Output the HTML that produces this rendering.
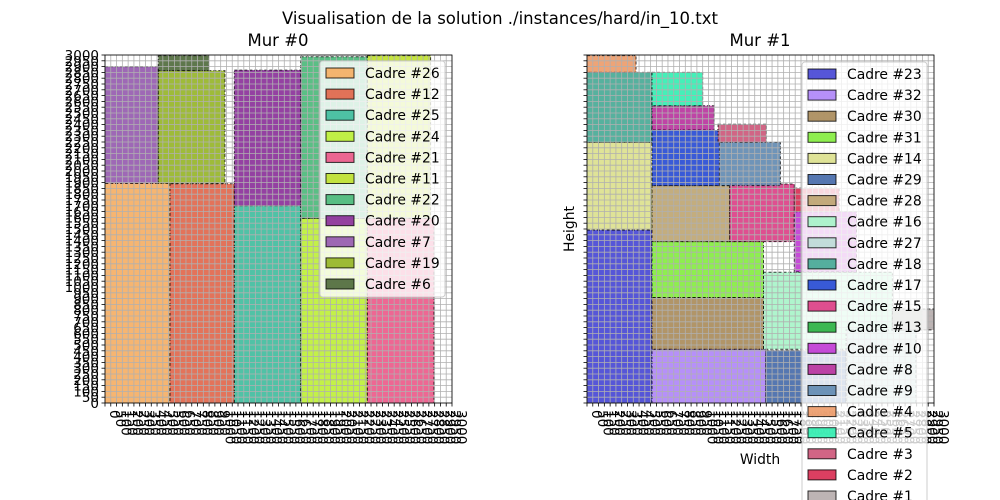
<!DOCTYPE html>
<html><head><meta charset="utf-8">
<style>
html,body{margin:0;padding:0;background:#fff;}
svg{display:block;font-family:"DejaVu Sans","Liberation Sans",sans-serif;}
</style></head>
<body>
<svg id="fig" width="1000" height="500" viewBox="0 0 1000 500" xmlns="http://www.w3.org/2000/svg">
<rect x="0" y="0" width="1000" height="500" fill="#fff"/>
<text x="500" y="24" font-size="16.5" text-anchor="middle">Visualisation de la solution ./instances/hard/in_10.txt</text>
<text x="278" y="46" font-size="16.5" text-anchor="middle">Mur #0</text>
<text x="760" y="46" font-size="16.5" text-anchor="middle">Mur #1</text>
<text x="574" y="229" font-size="13.9" text-anchor="middle" transform="rotate(-90 574 229)">Height</text>
<text x="760" y="464" font-size="13.9" text-anchor="middle">Width</text>
<g id="ax0"></g>
<g id="ax1"></g>
</svg>
<script>
// Wall 0 frames (data units)
const names0 = ["Cadre #26","Cadre #12","Cadre #25","Cadre #24","Cadre #21","Cadre #11","Cadre #22","Cadre #20","Cadre #7","Cadre #19","Cadre #6"];
const x0s = [0,562,1118,1692,2268,2268,1692,1118,0,461,461];
const y0s = [0,0,0,0,0,1592,1592,1700,1894,1894,2865];
const w0s = [562,556,574,576,576,547,576,574,461,576,438];
const h0s = [1894,1890,1700,1592,1592,1403,1393,1170,1006,971,130];
const colors0 = ["#f5ad62","#e06448","#3dbb9c","#bcf034","#ec5687","#bfe02c","#48b878","#882c98","#9458ae","#93b424","#4c6838"];

// Wall 1 frames
const names1 = ["Cadre #23","Cadre #32","Cadre #30","Cadre #31","Cadre #14","Cadre #29","Cadre #28","Cadre #16","Cadre #27","Cadre #18","Cadre #17","Cadre #15","Cadre #13","Cadre #10","Cadre #8","Cadre #9","Cadre #4","Cadre #5","Cadre #3","Cadre #2","Cadre #1"];
const x1s = [0,562,562,562,0,1545,562,1526,2240,0,562,1233,2640,1792,562,1145,0,562,1133,1792,2640];
const y1s = [0,0,463,910,1491,0,1391,463,0,2247,1874,1391,630,1130,2353,1874,2850,2563,2247,1650,630];
const w1s = [562,983,964,964,562,695,671,1114,605,562,583,559,260,538,538,527,424,438,418,388,360];
const h1s = [1491,463,447,481,756,454,483,664,630,603,479,497,180,520,210,373,145,287,156,202,180];
const colors1 = ["#4444d4","#ae84f8","#a88a58","#82ec3c","#dce08c","#4268a8","#bca470","#a6f4c8","#bcdcd6","#44a894","#2448d4","#dc3c84","#28b040","#c038d4","#b8309c","#5f88b0","#ec9a68","#30eeb0","#cc5478","#d82a50","#b6acac"];

const NS = "http://www.w3.org/2000/svg";
function mk(tag, attrs, parent){
  const e = document.createElementNS(NS, tag);
  for (const k in attrs) e.setAttribute(k, attrs[k]);
  parent.appendChild(e);
  return e;
}
const xTicks = [];
for (let v = 0; v <= 3000; v += 50) xTicks.push(v);

function drawAxes(g, L, T, W, H, xs, ys, ws, hs, cols, names, legendBox, showYLabels, axName){
  const sx = v => L + v / 3000 * W;
  const sy = v => T + H - v / 3000 * H;
  const bg = mk('rect', {x:L, y:T, width:W, height:H, fill:'#fff'}, g);
  
  
  for (let i = 0; i < xs.length; i++){
    const r = mk('rect', {x:sx(xs[i]), y:sy(ys[i]+hs[i]), width:sx(xs[i]+ws[i])-sx(xs[i]), height:sy(ys[i])-sy(ys[i]+hs[i]), fill:cols[i], 'fill-opacity':0.9, stroke:'#000', 'stroke-opacity':0.75, 'stroke-width':1, 'stroke-dasharray':'3,2'}, g);
    
    
  }
  // grid
  const grid = mk('g', {stroke:'#b0b0b0', 'stroke-width':0.8}, g);
  
  
  xTicks.forEach(v => {
    mk('line', {x1:sx(v), x2:sx(v), y1:T, y2:T+H}, grid);
    mk('line', {x1:L, x2:L+W, y1:sy(v), y2:sy(v)}, grid);
  });
  const frame = mk('rect', {x:L, y:T, width:W, height:H, fill:'none', stroke:'#000', 'stroke-width':0.8}, g);
  
  
  const tk = mk('g', {stroke:'#000', 'stroke-width':0.8}, g);
  
  
  const lab = mk('g', {'font-size':13.5, fill:'#000'}, g);
  
  
  xTicks.forEach(v => {
    mk('line', {x1:sx(v), x2:sx(v), y1:T+H, y2:T+H+3.5}, tk);
    mk('line', {x1:L-3.5, x2:L, y1:sy(v), y2:sy(v)}, tk);
    const t = mk('text', {x:sx(v)+5, y:T+H+7, transform:'rotate(90 '+(sx(v)+5)+' '+(T+H+7)+')'}, lab);
    t.textContent = v;
    if (showYLabels){
      const ty = mk('text', {x:L-6, y:sy(v)+5, 'text-anchor':'end'}, lab);
      ty.textContent = v;
    }
  });
  // legend
  const lg = mk('g', {}, g);
  
  
  mk('rect', {x:legendBox.x, y:legendBox.y, width:legendBox.w, height:legendBox.h, rx:3, fill:'#fff', 'fill-opacity':0.8, stroke:'#cccccc', 'stroke-width':1}, lg);
  names.forEach((n, i) => {
    const cy = legendBox.y + 12 + i * 21.1;
    const ent = mk('g', {}, lg);
    
    
    mk('rect', {x:legendBox.x+6, y:cy-5, width:28, height:10, fill:cols[i], 'fill-opacity':0.9, stroke:'#000', 'stroke-opacity':0.8, 'stroke-width':1}, ent);
    const t = mk('text', {x:legendBox.x+45, y:cy+5, 'font-size':13.9}, ent);
    t.textContent = n;
  });
}
drawAxes(document.getElementById('ax0'), 105, 55, 347, 348, x0s, y0s, w0s, h0s, colors0, names0, {x:320, y:61, w:125, h:236}, true, 'wall-0');
drawAxes(document.getElementById('ax1'), 587, 55, 347, 348, x1s, y1s, w1s, h1s, colors1, names1, {x:802, y:62, w:125, h:460}, false, 'wall-1');
</script>
</body></html>
